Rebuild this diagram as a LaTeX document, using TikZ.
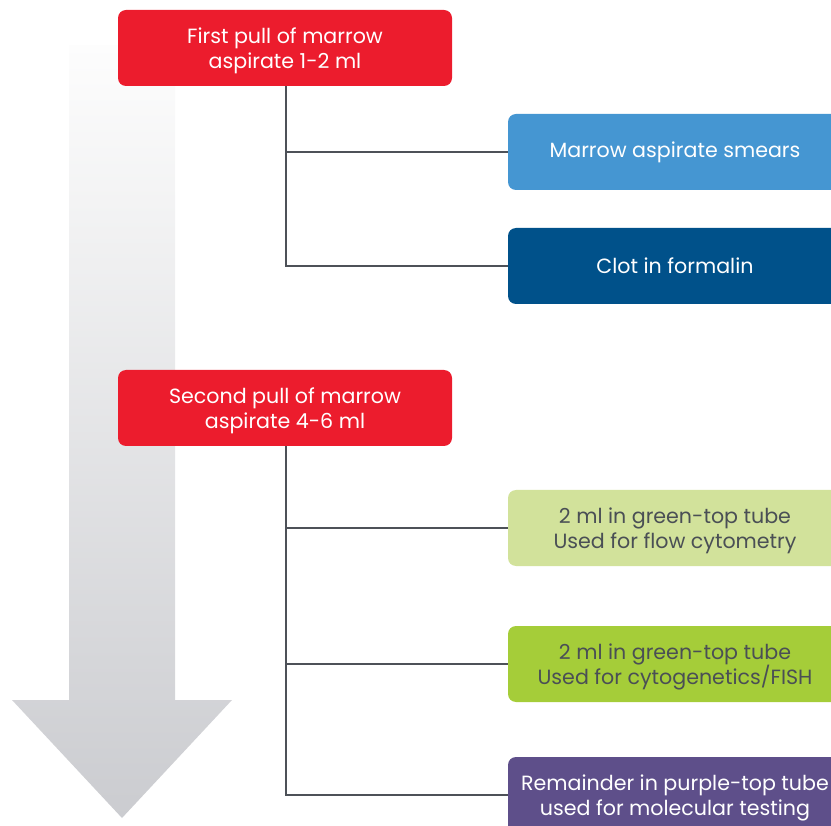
\documentclass[tikz,border=0pt]{standalone}
\usepackage{fontspec}
\setmainfont{Poppins}
\definecolor{redbox}{HTML}{EC1C2D}
\definecolor{lblue}{HTML}{4596D2}
\definecolor{dblue}{HTML}{00518A}
\definecolor{lgreen}{HTML}{D2E29B}
\definecolor{mgreen}{HTML}{A5CD39}
\definecolor{purp}{HTML}{5E4F8A}
\definecolor{txtdark}{HTML}{4A4F55}
\definecolor{linec}{HTML}{4D5158}
\definecolor{arrtop}{HTML}{FDFDFD}
\definecolor{arrbot}{HTML}{CBCCD0}
\tikzset{
  box/.style={rounded corners=8pt, minimum height=76pt, align=center, inner sep=0pt,
    font=\fontsize{20.6}{25.5}\selectfont},
  twoline/.style={text depth=0pt},
  leftbox/.style={box, twoline, fill=redbox, text=white, minimum width=334pt},
  rightbox/.style={box, minimum width=334pt},
  conn/.style={draw=linec, line width=2pt}
}
\begin{document}
\begin{tikzpicture}[x=1pt,y=-1pt]
\useasboundingbox (0,0) rectangle (831,826);
\clip (0,0) rectangle (831,826);
% big arrow
\path[top color=arrtop, bottom color=arrbot]
  (69,45) -- (175,45) -- (175,700) -- (232,700) -- (122,818) -- (12,700) -- (69,700) -- cycle;
% nodes
\node[leftbox] (p1) at (285,48) {First pull of marrow\\aspirate 1-2 ml};
\node[rightbox, fill=lblue, text=white] (smear) at (675,152) {Marrow aspirate smears};
\node[rightbox, fill=dblue, text=white] (clot) at (675,266) {Clot in formalin};
\node[leftbox] (p2) at (285,408) {Second pull of marrow\\aspirate 4-6 ml};
\node[rightbox, twoline, fill=lgreen, text=txtdark] (flow) at (675,528) {2 ml in green-top tube\\Used for flow cytometry};
\node[rightbox, twoline, fill=mgreen, text=txtdark] (fish) at (675,664) {2 ml in green-top tube\\Used for cytogenetics/FISH};
\node[rightbox, twoline, fill=purp, text=white] (mol) at (675,795) {Remainder in purple-top tube\\used for molecular testing};
% connectors
\coordinate (t1) at ([xshift=1pt]p1.south);
\coordinate (t2) at ([xshift=1pt]p2.south);
\draw[conn] (t1) |- (smear.west);
\draw[conn] (t1) |- (clot.west);
\draw[conn] (t2) |- (flow.west);
\draw[conn] (t2) |- (fish.west);
\draw[conn] (t2) |- (mol.west);
\end{tikzpicture}
\end{document}
